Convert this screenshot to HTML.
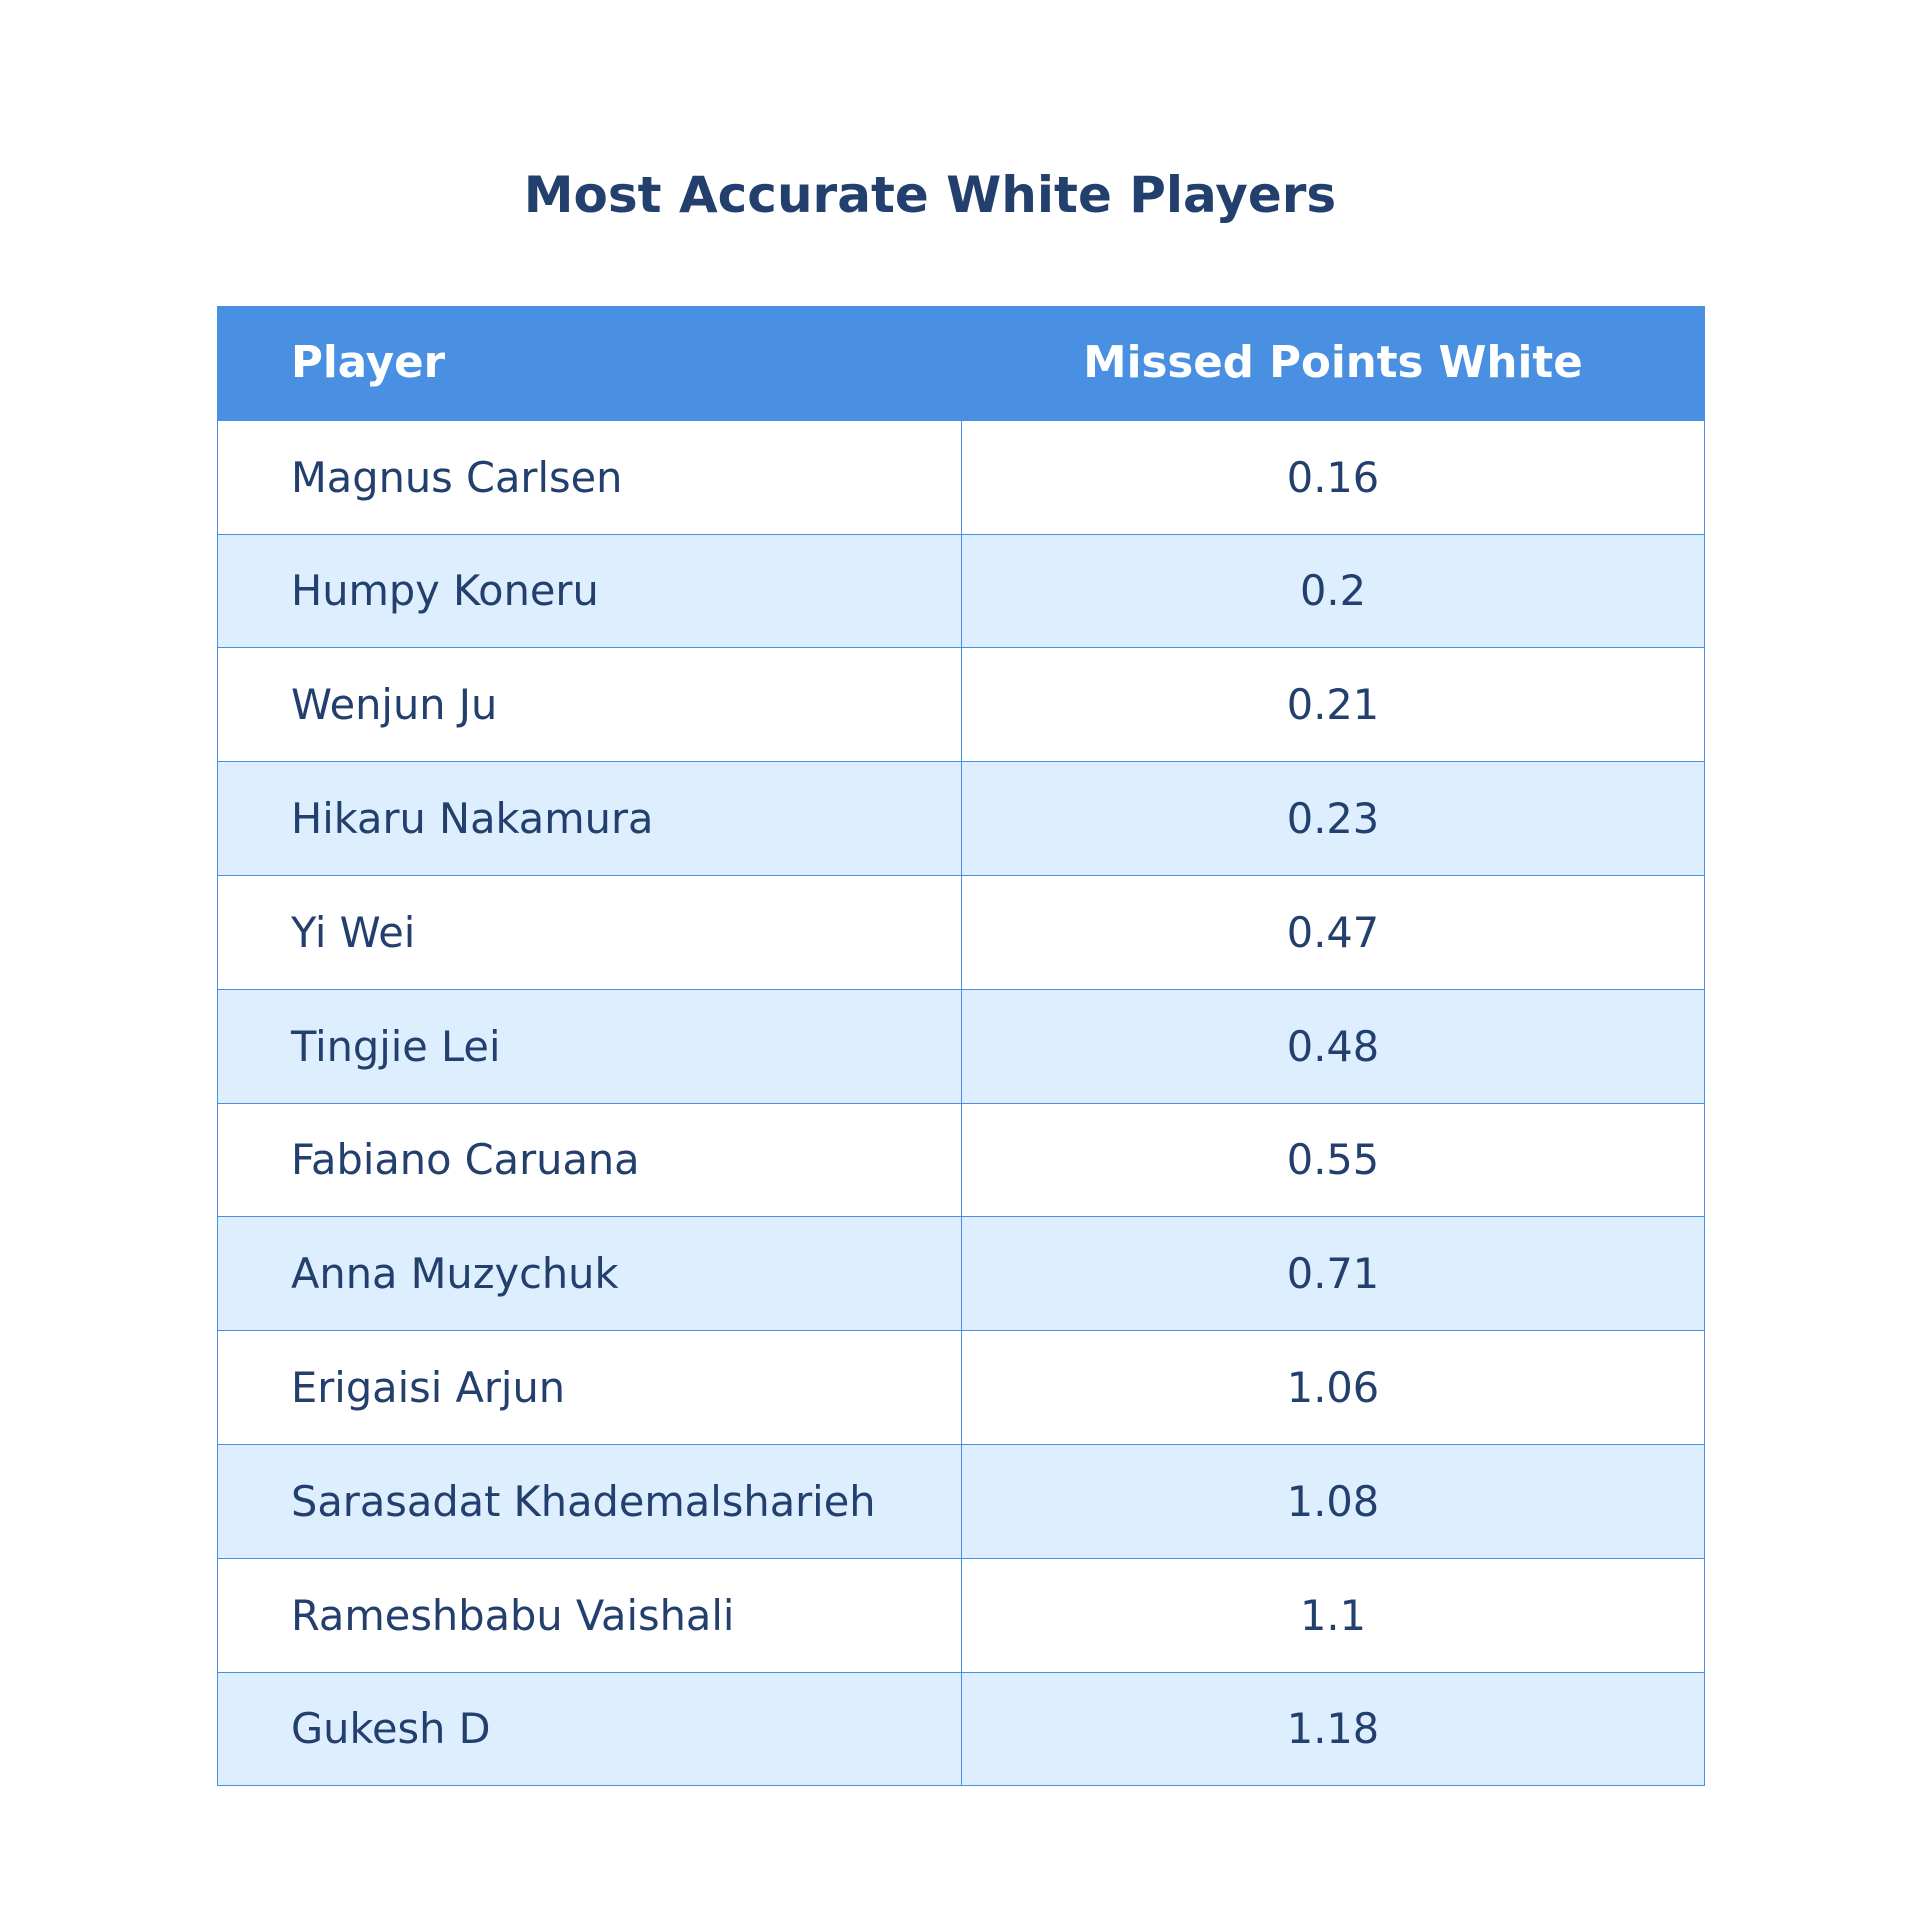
<!DOCTYPE html>
<html><head><meta charset="utf-8"><style>
body{margin:0;width:1919px;height:1907px;background:#fff;font-family:"DejaVu Sans","Liberation Sans",sans-serif;color:#223f6e;position:relative;overflow:hidden}
#title{position:absolute;left:0;width:1860px;top:166px;text-align:center;font-weight:bold;font-size:50px;color:#223f6e}
table{position:absolute;left:217px;top:306px;width:1487px;border-collapse:collapse;table-layout:fixed}
td,th{height:112.8px;padding:0;border:1px solid #4a90e2;font-size:41.5px}
th{background:#4a90e2;color:#fff;font-weight:bold;font-size:43.5px}
td.n,th.n{text-align:left;padding-left:73px}
td.v,th.v{text-align:center}
tr:nth-child(even) td{background:#ddeeff}
</style></head><body>
<div id="title">Most Accurate White Players</div>
<table>
<colgroup><col style="width:744px"><col style="width:743px"></colgroup>
<thead><tr><th class="n">Player</th><th class="v">Missed Points White</th></tr></thead>
<tbody id="tb"></tbody></table>
<script>
const players=["Magnus Carlsen","Humpy Koneru","Wenjun Ju","Hikaru Nakamura","Yi Wei","Tingjie Lei","Fabiano Caruana","Anna Muzychuk","Erigaisi Arjun","Sarasadat Khademalsharieh","Rameshbabu Vaishali","Gukesh D"];
const missed=["0.16","0.2","0.21","0.23","0.47","0.48","0.55","0.71","1.06","1.08","1.1","1.18"];
const tb=document.getElementById('tb');
players.forEach((p,i)=>{
const tr=document.createElement('tr');


const a=document.createElement('td');a.className='n';a.textContent=p;


const b=document.createElement('td');b.className='v';b.textContent=missed[i];


tr.appendChild(a);tr.appendChild(b);tb.appendChild(tr);
});
</script>
</body></html>
